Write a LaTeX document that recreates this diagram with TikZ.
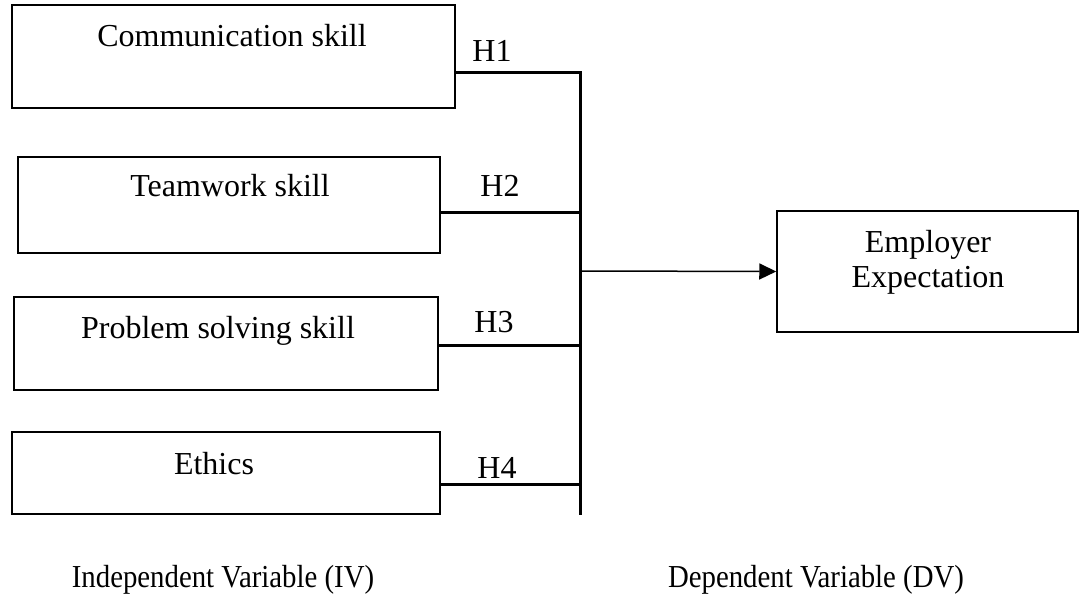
\documentclass[tikz,border=0pt]{standalone}
\usepackage{fontspec}
\usepackage{graphicx}
\setmainfont{Liberation Serif}
\usetikzlibrary{arrows.meta}
\begin{document}
\begin{tikzpicture}[x=0.5pt,y=-0.5pt,
  ivbox/.style={draw=black,line width=0.75pt,rectangle,inner sep=0pt},
  lbl/.style={font=\fontsize{16}{17.5}\selectfont,inner sep=0pt,anchor=base},
  captext/.style={font=\fontsize{16}{17.5}\selectfont,inner sep=0pt,anchor=base},
  conn/.style={line width=1.5pt},
  arr/.style={line width=0.75pt,-{Triangle[length=8.5pt,width=8pt]}}]
\useasboundingbox (0,0) rectangle (1081,599);
% independent variable boxes
\node[ivbox,minimum width=221.5pt,minimum height=51.5pt] (b1) at (233.5,56.5) {};
\node[ivbox,minimum width=211pt,minimum height=48pt] (b2) at (229,205) {};
\node[ivbox,minimum width=212pt,minimum height=46.5pt] (b3) at (226,343.5) {};
\node[ivbox,minimum width=214pt,minimum height=41pt] (b4) at (226,473) {};
\node[lbl] (t1) at (232,47) {Communication skill};
\node[lbl] (t2) at (230,196) {Teamwork skill};
\node[lbl] (t3) at (218,338) {Problem solving skill};
\node[lbl] (t4) at (214,474) {Ethics};
% bus
\coordinate (j1) at (580,73);
\coordinate (j2) at (580,212);
\coordinate (j3) at (580,345);
\coordinate (j4) at (580,484);
\coordinate (jb) at (580,515);
\coordinate (ja) at (580,271);
\draw[conn] (b1.east |- j1) -- (j1) -- (jb);
\draw[conn] (b2.east |- j2) -- (j2);
\draw[conn] (b3.east |- j3) -- (j3);
\draw[conn] (b4.east |- j4) -- (j4);
\node[lbl] (h1) at (492,62) {H1};
\node[lbl] (h2) at (500,196) {H2};
\node[lbl] (h3) at (494,332) {H3};
\node[lbl] (h4) at (497,478) {H4};
% dependent variable
\node[ivbox,minimum width=150.5pt,minimum height=60.5pt] (emp) at (927.5,271.5) {};
\node[lbl] (te1) at (928,252) {Employer};
\node[lbl] (te2) at (928,287) {Expectation};
\draw[arr] (ja) -- (emp.west);
% captions
\node[captext] (iv) at (223,587) {\scalebox{0.9}[1]{Independent Variable (IV)}};
\node[captext] (dv) at (816,587) {\scalebox{0.9}[1]{Dependent Variable (DV)}};
\end{tikzpicture}
\end{document}
